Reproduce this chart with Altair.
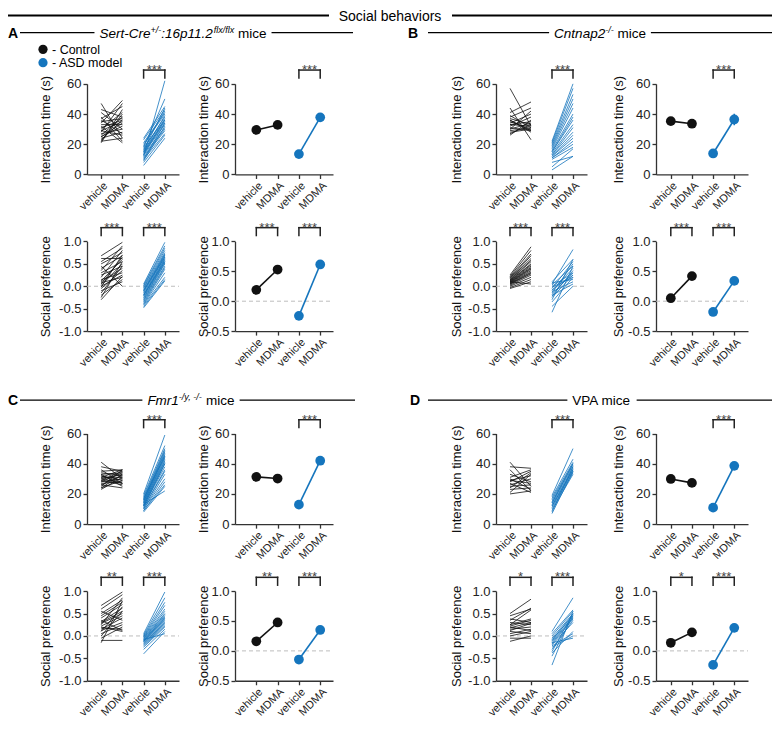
import altair as alt
import pandas as pd

# ---------------------------------------------------------------- data
treatments = ["vehicle", "MDMA"]
genotypes = ["Control", "ASD model"]

# A: Sert-Cre+/-:16p11.2 flx/flx
A_int_ctrl_veh = [47, 43, 41, 38, 37, 36, 35, 34, 33, 32, 31, 30, 29, 29, 28, 27, 26, 25, 24, 23, 22, 22, 21, 25]
A_int_ctrl_mdma = [24, 38, 30, 22, 45, 27, 37, 49, 33, 21, 36, 41, 26, 35, 47, 30, 38, 34, 28, 36, 24, 40, 43, 32]
A_int_asd_veh = [24, 23, 21, 20, 19, 18, 18, 17, 16, 16, 15, 15, 14, 14, 13, 13, 12, 12, 11, 10, 10, 9, 8, 6]
A_int_asd_mdma = [45, 43, 41, 40, 42, 36, 50, 38, 35, 44, 34, 39, 33, 37, 31, 36, 30, 62, 29, 34, 27, 32, 26, 24]
A_pref_ctrl_veh = [0.68, 0.62, 0.55, 0.50, 0.45, 0.40, 0.35, 0.30, 0.25, 0.20, 0.15, 0.12, 0.10, 0.08, 0.05, 0.02, 0.00, -0.02, -0.05, -0.10, -0.15, -0.20, -0.25, -0.30]
A_pref_ctrl_mdma = [0.98, 0.62, 0.85, 0.75, 0.00, 0.68, 0.90, 0.55, 0.45, 0.80, 0.30, 0.60, 0.40, 0.20, 0.65, 0.50, 0.25, 0.70, 0.35, 0.10, 0.45, 0.15, 0.55, 0.22]
A_pref_asd_veh = [0.05, 0.02, 0.00, -0.03, -0.05, -0.08, -0.10, -0.12, -0.15, -0.18, -0.20, -0.22, -0.25, -0.27, -0.30, -0.32, -0.35, -0.38, -0.40, -0.42, -0.45, -0.48, -0.10, -0.20]
A_pref_asd_mdma = [0.98, 0.90, 0.85, 0.80, 0.75, 0.72, 0.70, 0.68, 0.65, 0.62, 0.60, 0.58, 0.55, 0.52, 0.50, 0.45, 0.42, 0.38, 0.30, 0.20, 0.15, 0.12, 0.65, 0.55]
A_int_means = [29.5, 32.8, 13.5, 37.8]
A_int_sems = [1.3, 1.4, 1.0, 1.6]
A_pref_means = [0.19, 0.53, -0.245, 0.615]
A_pref_sems = [0.05, 0.05, 0.03, 0.04]

# B: Cntnap2-/-
B_int_ctrl_veh = [57, 44, 41, 39, 38, 37, 36, 35, 34, 33, 33, 32, 31, 30, 30, 29, 28, 27, 26, 36]
B_int_ctrl_mdma = [32, 23, 48, 31, 44, 33, 29, 30, 40, 35, 32, 38, 29, 34, 42, 31, 30, 33, 36, 28]
B_int_asd_veh = [22, 21, 20, 19, 18, 17, 16, 15, 14, 13, 13, 12, 12, 11, 11, 10, 8, 5, 3, 15]
B_int_asd_mdma = [60, 57, 53, 50, 47, 44, 40, 36, 33, 31, 28, 26, 24, 22, 20, 18, 12, 17, 12, 38]
B_pref_ctrl_veh = [0.25, 0.22, 0.20, 0.18, 0.17, 0.15, 0.14, 0.13, 0.12, 0.11, 0.10, 0.09, 0.08, 0.07, 0.06, 0.05, 0.04, 0.02, 0.00, -0.03, -0.05, 0.10]
B_pref_ctrl_mdma = [0.88, 0.80, 0.72, 0.68, 0.62, 0.58, 0.55, 0.50, 0.48, 0.45, 0.42, 0.40, 0.38, 0.35, 0.32, 0.30, 0.28, 0.25, 0.20, 0.15, 0.10, 0.05]
B_pref_asd_veh = [0.10, 0.08, 0.05, 0.03, 0.00, -0.02, -0.05, -0.08, -0.10, -0.12, -0.15, -0.18, -0.20, -0.22, -0.25, -0.30, -0.35, -0.45, -0.58]
B_pref_asd_mdma = [0.60, 0.15, 0.82, 0.45, 0.30, 0.20, 0.55, 0.25, 0.40, 0.10, 0.50, 0.30, 0.05, 0.35, 0.25, 0.60, 0.20, 0.00, 0.45]
B_int_means = [35.3, 33.6, 13.9, 36.4]
B_int_sems = [1.8, 1.4, 1.2, 3.8]
B_pref_means = [0.05, 0.42, -0.18, 0.34]
B_pref_sems = [0.02, 0.05, 0.04, 0.06]

# C: Fmr1-/y, -/-
C_int_ctrl_veh = [41, 38, 36, 35, 34, 33, 33, 32, 31, 31, 30, 30, 29, 29, 28, 28, 27, 26, 26, 25, 24, 24, 23, 32]
C_int_ctrl_mdma = [30, 35, 27, 36, 32, 25, 34, 29, 36, 31, 27, 33, 35, 26, 30, 34, 28, 32, 24, 36, 29, 33, 31, 27]
C_int_asd_veh = [20, 19, 18, 17, 16, 16, 15, 15, 14, 14, 13, 13, 12, 12, 11, 11, 10, 10, 9, 9, 8, 13, 17, 12]
C_int_asd_mdma = [59, 52, 50, 49, 48, 47, 46, 45, 44, 43, 42, 41, 40, 38, 36, 35, 33, 30, 28, 26, 25, 22, 45, 40]
C_pref_ctrl_veh = [0.68, 0.60, 0.55, 0.50, 0.45, 0.40, 0.35, 0.32, 0.30, 0.28, 0.25, 0.22, 0.20, 0.15, 0.12, 0.10, 0.05, 0.00, -0.05, -0.10, -0.15, 0.18]
C_pref_ctrl_mdma = [0.98, 0.92, 0.35, 0.80, 0.75, 0.70, 0.12, 0.62, 0.55, 0.50, 0.85, 0.45, 0.10, 0.40, 0.30, 0.65, 0.25, 0.55, 0.20, -0.10, 0.78, 0.15]
C_pref_asd_veh = [0.05, 0.02, 0.00, -0.02, -0.03, -0.05, -0.06, -0.08, -0.10, -0.10, -0.12, -0.13, -0.15, -0.16, -0.18, -0.20, -0.22, -0.25, -0.30, -0.40, -0.08, -0.12]
C_pref_asd_mdma = [0.98, 0.85, 0.75, 0.68, 0.60, 0.55, 0.50, 0.48, 0.45, 0.42, 0.40, 0.35, 0.32, 0.30, 0.28, 0.25, 0.22, 0.20, 0.15, 0.10, 0.05, 0.38]
C_int_means = [31.3, 30.2, 12.9, 42.0]
C_int_sems = [1.0, 0.8, 0.8, 2.0]
C_pref_means = [0.16, 0.475, -0.145, 0.35]
C_pref_sems = [0.05, 0.07, 0.03, 0.05]

# D: VPA
D_int_ctrl_veh = [41, 38, 36, 33, 31, 30, 29, 28, 27, 26, 25, 24, 23, 21, 20, 29]
D_int_ctrl_mdma = [25, 37, 22, 28, 36, 23, 32, 35, 21, 30, 26, 34, 24, 33, 22, 27]
D_int_asd_veh = [19, 18, 17, 16, 15, 14, 13, 12, 12, 11, 10, 9, 8, 7, 14]
D_int_asd_mdma = [50, 43, 41, 40, 39, 38, 37, 36, 36, 35, 34, 33, 38, 35, 40]
D_pref_ctrl_veh = [0.50, 0.45, 0.38, 0.35, 0.30, 0.25, 0.22, 0.20, 0.18, 0.15, 0.12, 0.10, 0.05, 0.00, -0.05, -0.12, 0.25]
D_pref_ctrl_mdma = [0.82, 0.60, 0.30, 0.62, 0.25, 0.38, 0.35, 0.12, 0.30, 0.20, 0.28, 0.05, 0.15, 0.10, -0.05, 0.00, 0.58]
D_pref_asd_veh = [0.10, 0.05, 0.00, -0.05, -0.08, -0.10, -0.12, -0.15, -0.18, -0.20, -0.22, -0.25, -0.30, -0.35, -0.38, -0.45, -0.65, -0.15]
D_pref_asd_mdma = [0.85, 0.58, 0.55, 0.50, 0.45, 0.48, 0.42, 0.40, 0.38, 0.30, 0.05, 0.00, 0.35, 0.50, 0.10, 0.45, 0.55, -0.05]
D_int_means = [29.9, 27.3, 10.9, 38.6]
D_int_sems = [1.6, 1.3, 1.0, 1.2]
D_pref_means = [0.135, 0.31, -0.235, 0.385]
D_pref_sems = [0.04, 0.05, 0.05, 0.07]

# significance brackets: (from position, to position, label)
A_int_sig = [(2, 3, "***")]
A_pref_sig = [(0, 1, "***"), (2, 3, "***")]
B_int_sig = [(2, 3, "***")]
B_pref_sig = [(0, 1, "***"), (2, 3, "***")]
C_int_sig = [(2, 3, "***")]
C_pref_sig = [(0, 1, "**"), (2, 3, "***")]
D_int_sig = [(2, 3, "***")]
D_pref_sig = [(0, 1, "*"), (2, 3, "***")]

int_ticks = [0, 20, 40, 60]
pref_ind_ticks = [-1.0, -0.5, 0.0, 0.5, 1.0]
pref_mean_ticks = [-0.5, 0.0, 0.5, 1.0]

# ---------------------------------------------------------------- layout / style
W, H = 764, 713
FONT = "Arial, Liberation Sans, Helvetica, sans-serif"
BLACK = "#111111"
BLUE = "#1575bd"
AXC = "#333333"

# columns: axis x, axis end x (page px), x-domain, title offset
COLS = {
    "L_ind": (87, 179, -0.667, 3.667, -42),
    "L_mean": (235, 333, -1.0, 3.6, -32),
    "R_ind": (496, 587, -0.667, 3.667, -40),
    "R_mean": (656, 748, -0.7, 3.65, -38),
}
ROWS = {1: (87, 179), 2: (247, 338), 3: (442, 534), 4: (602, 693)}


def px(p):
    return p - 8


def py(p):
    return (p - 10) * 0.985


COLOR = alt.Color("genotype:N", scale=alt.Scale(domain=genotypes, range=[BLACK, BLUE]), legend=None)
ONE = pd.DataFrame({"k": [0]})


def x_scale(col):
    ax, end, d0, d1, _ = COLS[col]
    return alt.Scale(domain=[d0, d1], range=[px(ax), px(end)], nice=False, zero=False)


def y_scale(row, dom):
    top, bot = ROWS[row]
    return alt.Scale(domain=dom, range=[py(bot), py(top)], nice=False, zero=False)


def x_axis(row):
    top, bot = ROWS[row]
    return alt.Axis(orient="bottom", offset=-(H - py(bot)), values=[0, 1, 2, 3],
                    labelExpr="datum.value % 2 == 0 ? 'vehicle' : 'MDMA'",
                    labelAngle=-45, labelAlign="right", labelBaseline="top",
                    labelFontSize=11, labelPadding=1, tickSize=4, title=None)


def y_axis(col, ticks, title, pref):
    ax = COLS[col][0]
    kw = {}
    if pref:
        kw["labelExpr"] = "(datum.value < 0 ? '-' : '') + format(abs(datum.value), '.1f')"
    return alt.Axis(orient="left", offset=-px(ax), values=ticks, title=title,
                    titleX=COLS[col][4], titleBaseline="middle", titleAngle=270,
                    labelFontSize=13, titleFontSize=13, tickSize=4, labelPadding=2, **kw)


def zero_layer(col, xs, ys, xa, ya):
    ax, end, d0, d1, _ = COLS[col]
    df = pd.DataFrame({"a": [d0], "b": [d1], "z": [0.0]})
    return alt.Chart(df).mark_rule(color="#bdbdbd", strokeWidth=1, strokeDash=[4, 3]).encode(
        x=alt.X("a:Q", scale=xs, axis=xa), x2="b:Q", y=alt.Y("z:Q", scale=ys, axis=ya))


def bracket_layers(sig, row, xs, xa):
    top = ROWS[row][0]
    yl = py(top - 14)
    ya = py(top - 6)
    df = pd.DataFrame(sig, columns=["a", "b", "label"])
    df["m"] = (df["a"] + df["b"]) / 2
    rule = dict(color="#222222", strokeWidth=1.5, strokeCap="square")
    return [
        alt.Chart(df).mark_rule(**rule).encode(x=alt.X("a:Q", scale=xs, axis=xa), x2="b:Q", y=alt.value(yl)),
        alt.Chart(df).mark_rule(**rule).encode(x=alt.X("a:Q", scale=xs, axis=xa), y=alt.value(yl), y2=alt.value(ya)),
        alt.Chart(df).mark_rule(**rule).encode(x=alt.X("b:Q", scale=xs, axis=xa), y=alt.value(yl), y2=alt.value(ya)),
        alt.Chart(df).mark_text(fontSize=13, color="#444444", font=FONT, baseline="alphabetic").encode(
            x=alt.X("m:Q", scale=xs, axis=xa), y=alt.value(yl + 4), text="label:N"),
    ]


def individual_panel(col, row, cv, cm, av, am, ydom, yticks, ytitle, pref, sig):
    xs, ys = x_scale(col), y_scale(row, ydom)
    xa, ya = x_axis(row), y_axis(col, yticks, ytitle, pref)
    recs = []
    for gname, veh, mdma, base in ((genotypes[0], cv, cm, 0), (genotypes[1], av, am, 2)):
        for i, (a, b) in enumerate(zip(veh, mdma)):
            recs.append(dict(id=f"{gname}-{i}", genotype=gname, pos=base, val=a))
            recs.append(dict(id=f"{gname}-{i}", genotype=gname, pos=base + 1, val=b))
    df = pd.DataFrame(recs)
    layers = []
    if pref:
        layers.append(zero_layer(col, xs, ys, xa, ya))
    layers.append(alt.Chart(df).mark_line(strokeWidth=0.8).encode(
        x=alt.X("pos:Q", scale=xs, axis=xa), y=alt.Y("val:Q", scale=ys, axis=ya),
        detail="id:N", color=COLOR))
    layers += bracket_layers(sig, row, xs, xa)
    return alt.layer(*layers)


def mean_panel(col, row, means, sems, ydom, yticks, ytitle, pref, sig):
    xs, ys = x_scale(col), y_scale(row, ydom)
    xa, ya = x_axis(row), y_axis(col, yticks, ytitle, pref)
    df = pd.DataFrame({
        "genotype": [genotypes[0], genotypes[0], genotypes[1], genotypes[1]],
        "pos": [0, 1, 2, 3],
        "val": means,
        "lo": [m - s for m, s in zip(means, sems)],
        "hi": [m + s for m, s in zip(means, sems)],
    })
    X = alt.X("pos:Q", scale=xs, axis=xa)
    layers = []
    if pref:
        layers.append(zero_layer(col, xs, ys, xa, ya))
    layers.append(alt.Chart(df).mark_line(strokeWidth=1.6).encode(
        x=X, y=alt.Y("val:Q", scale=ys, axis=ya), detail="genotype:N", color=COLOR))
    layers.append(alt.Chart(df).mark_rule(strokeWidth=1.6).encode(
        x=X, y=alt.Y("lo:Q", scale=ys, axis=ya), y2="hi:Q", color=COLOR))
    layers.append(alt.Chart(df).mark_circle(size=95, opacity=1).encode(
        x=X, y=alt.Y("val:Q", scale=ys, axis=ya), color=COLOR))
    layers += bracket_layers(sig, row, xs, xa)
    return alt.layer(*layers)


# ---- header text helpers
CHAR_W = {' ': 278, '+': 584, '/': 278, '-': 333, ':': 278, '.': 278, ',': 278,
          'S': 667, 'e': 556, 'r': 333, 't': 278, 'C': 722, 'f': 278, 'l': 222, 'x': 500,
          'm': 833, 'i': 222, 'c': 500, 'n': 556, 'a': 556, 'p': 556, 'F': 611, 'y': 500,
          'V': 667, 'P': 667, 'A': 667, 'o': 556, 'h': 556, 'b': 556, 'v': 500, 's': 500}


def tw(s, size):
    return sum(CHAR_W.get(c, 556) for c in s) * size / 1000.0


def txt(s, x, y, size, style="normal", weight="normal", align="left", color="black"):
    return alt.Chart(ONE).mark_text(text=s, fontSize=size, fontStyle=style, fontWeight=weight,
                                    align=align, baseline="alphabetic", font=FONT, color=color).encode(
        x=alt.value(x), y=alt.value(y))


def hrule(x1, x2, y, w=1.3):
    return alt.Chart(ONE).mark_rule(color="black", strokeWidth=w).encode(
        x=alt.value(x1), x2=alt.value(x2), y=alt.value(y))


def header(letter, letter_x, y, segs, center, line_start, line_end):
    out = []
    total = sum(tw(t, sz) for t, sz, st, dy in segs)
    x0 = center - total / 2
    out.append(txt(letter, max(px(letter_x), 0), py(y) + 5, 14, weight="bold"))
    x = x0
    for t, sz, st, dy in segs:
        lead = len(t) - len(t.lstrip(" "))
        xs_ = x + tw(" " * lead, sz)
        out.append(txt(t.strip(" "), px(xs_), py(y) + 5 + dy, sz, style=st))
        x += tw(t, sz)
    out.append(hrule(px(line_start), px(x0 - 5), py(y)))
    out.append(hrule(px(x + 5), min(px(line_end), W), py(y)))
    return out


layers = []

# title
layers.append(txt("Social behaviors", px(390), 12.6, 14, align="center"))
layers.append(hrule(0, px(329), 7.5, 2))
layers.append(hrule(px(452), W, 7.5, 2))

layers += header("A", 2, 35, [("Sert-Cre", 13.5, "italic", 0), ("+/-", 9, "italic", -5),
                              (":16p11.2", 13.5, "italic", 0), ("flx/flx", 9, "italic", -5),
                              (" mice", 13.5, "normal", 0)], 183, 20, 353)
layers += header("B", 408, 35, [("Cntnap2", 13.5, "italic", 0), ("-/-", 9, "italic", -5),
                                (" mice", 13.5, "normal", 0)], 600, 428, 775)
layers += header("C", 2, 408, [("Fmr1", 13.5, "italic", 0), ("-/y, -/-", 9, "italic", -5),
                              (" mice", 13.5, "normal", 0)], 191, 20, 355)
layers += header("D", 410, 408, [("VPA mice", 13.5, "normal", 0)], 602, 428, 775)

# legend
for i, (g, c) in enumerate(zip(genotypes, [BLACK, BLUE])):
    yy = py(52 + 13.5 * i)
    layers.append(alt.Chart(ONE).mark_circle(size=85, opacity=1, color=c).encode(
        x=alt.value(px(43)), y=alt.value(yy)))
    layers.append(txt("- " + g, px(52), yy + 4.5, 12.5))

IT = "Interaction time (s)"
SP = "Social preference"

panels = [
    # A
    individual_panel("L_ind", 1, A_int_ctrl_veh, A_int_ctrl_mdma, A_int_asd_veh, A_int_asd_mdma,
                     [0, 60], int_ticks, IT, False, A_int_sig),
    mean_panel("L_mean", 1, A_int_means, A_int_sems, [0, 60], int_ticks, IT, False, A_int_sig),
    individual_panel("L_ind", 2, A_pref_ctrl_veh, A_pref_ctrl_mdma, A_pref_asd_veh, A_pref_asd_mdma,
                     [-1, 1], pref_ind_ticks, SP, True, A_pref_sig),
    mean_panel("L_mean", 2, A_pref_means, A_pref_sems, [-0.5, 1], pref_mean_ticks, SP, True, A_pref_sig),
    # B
    individual_panel("R_ind", 1, B_int_ctrl_veh, B_int_ctrl_mdma, B_int_asd_veh, B_int_asd_mdma,
                     [0, 60], int_ticks, IT, False, B_int_sig),
    mean_panel("R_mean", 1, B_int_means, B_int_sems, [0, 60], int_ticks, IT, False, B_int_sig),
    individual_panel("R_ind", 2, B_pref_ctrl_veh, B_pref_ctrl_mdma, B_pref_asd_veh, B_pref_asd_mdma,
                     [-1, 1], pref_ind_ticks, SP, True, B_pref_sig),
    mean_panel("R_mean", 2, B_pref_means, B_pref_sems, [-0.5, 1], pref_mean_ticks, SP, True, B_pref_sig),
    # C
    individual_panel("L_ind", 3, C_int_ctrl_veh, C_int_ctrl_mdma, C_int_asd_veh, C_int_asd_mdma,
                     [0, 60], int_ticks, IT, False, C_int_sig),
    mean_panel("L_mean", 3, C_int_means, C_int_sems, [0, 60], int_ticks, IT, False, C_int_sig),
    individual_panel("L_ind", 4, C_pref_ctrl_veh, C_pref_ctrl_mdma, C_pref_asd_veh, C_pref_asd_mdma,
                     [-1, 1], pref_ind_ticks, SP, True, C_pref_sig),
    mean_panel("L_mean", 4, C_pref_means, C_pref_sems, [-0.5, 1], pref_mean_ticks, SP, True, C_pref_sig),
    # D
    individual_panel("R_ind", 3, D_int_ctrl_veh, D_int_ctrl_mdma, D_int_asd_veh, D_int_asd_mdma,
                     [0, 60], int_ticks, IT, False, D_int_sig),
    mean_panel("R_mean", 3, D_int_means, D_int_sems, [0, 60], int_ticks, IT, False, D_int_sig),
    individual_panel("R_ind", 4, D_pref_ctrl_veh, D_pref_ctrl_mdma, D_pref_asd_veh, D_pref_asd_mdma,
                     [-1, 1], pref_ind_ticks, SP, True, D_pref_sig),
    mean_panel("R_mean", 4, D_pref_means, D_pref_sems, [-0.5, 1], pref_mean_ticks, SP, True, D_pref_sig),
]

chart = alt.layer(*panels, *layers).resolve_scale(
    x="independent", y="independent"
).properties(
    width=W, height=H, padding=0, autosize=alt.AutoSizeParams(type="none")
).configure_view(stroke=None).configure_axis(
    grid=False, domainColor=AXC, tickColor=AXC, domainWidth=1.3, tickWidth=1.3,
    labelColor="#222222", titleColor="#111111", labelFont=FONT, titleFont=FONT,
    titleFontWeight="normal", labelOverlap=False, labelFlush=False, labelBound=False
)

chart.save("out.html", embed_options={"renderer": "svg", "actions": False})
